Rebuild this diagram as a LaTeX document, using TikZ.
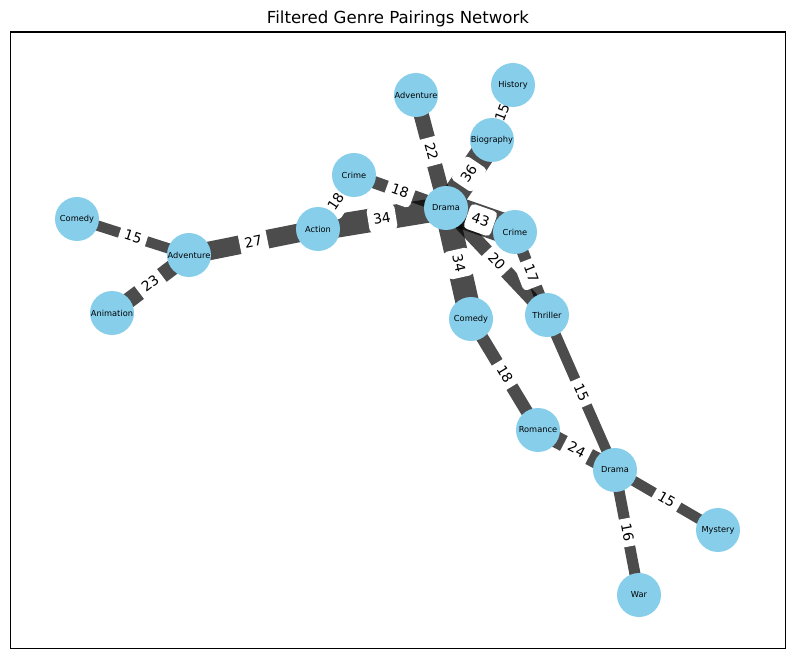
\documentclass[tikz,border=0pt]{standalone}
\usepackage{fontspec}
\setmainfont{DejaVu Sans}
\usepackage{tikz}
\usetikzlibrary{backgrounds}
\definecolor{skyblue}{RGB}{135,206,235}
\tikzset{
  genre/.style={shape=circle,fill=skyblue,minimum size=0.88cm,inner sep=0pt,
    font=\fontsize{4.7}{4.7}\selectfont},
  pairing/.style={draw=black,draw opacity=.7,line width=#1*0.394pt},
  tally/.style={fill=white,sloped,inner xsep=3pt,inner ysep=2.4pt,
    text height=0.76em,text depth=0.24em,rounded corners=2.4pt,
    font=\fontsize{7.9}{7.9}\selectfont},
  frame/.style={draw=black,line width=0.63pt}
}
\begin{document}
\begin{tikzpicture}[x=0.02cm,y=-0.02cm]
    \useasboundingbox (0,0) rectangle (794,658);
    \node[anchor=base,font=\fontsize{9.45}{9.45}\selectfont] (title) at (398,24) {Filtered Genre Pairings Network};
    \draw[frame] (10.5,32) rectangle (785.3,648.3);
    \node[genre] (com1) at (77,219) {Comedy};
    \node[genre] (adv1) at (189,255) {Adventure};
    \node[genre] (ani) at (112,313) {Animation};
    \node[genre] (act) at (318,229) {Action};
    \node[genre] (cri1) at (354,175) {Crime};
    \node[genre] (dra1) at (446,208) {Drama};
    \node[genre] (adv2) at (416,95) {Adventure};
    \node[genre] (his) at (513,85) {History};
    \node[genre] (bio) at (492,140) {Biography};
    \node[genre] (cri2) at (515,232) {Crime};
    \node[genre] (com2) at (471,319) {Comedy};
    \node[genre] (thr) at (547,315) {Thriller};
    \node[genre] (rom) at (538,430) {Romance};
    \node[genre] (dra2) at (615,470) {Drama};
    \node[genre] (mys) at (718,530) {Mystery};
    \node[genre] (war) at (639,595) {War};
    \begin{scope}[on background layer]
      % pairings
      \draw[pairing=15] (com1.center) -- (adv1.center);
      \draw[pairing=23] (adv1.center) -- (ani.center);
      \draw[pairing=27] (adv1.center) -- (act.center);
      \draw[pairing=18] (act.center) -- (cri1.center);
      \draw[pairing=34] (act.center) -- (dra1.center);
      \draw[pairing=18] (cri1.center) -- (dra1.center);
      \draw[pairing=22] (dra1.center) -- (adv2.center);
      \draw[pairing=36] (dra1.center) -- (bio.center);
      \draw[pairing=15] (bio.center) -- (his.center);
      \draw[pairing=43] (dra1.center) -- (cri2.center);
      \draw[pairing=34] (dra1.center) -- (com2.center);
      \draw[pairing=20] (dra1.center) -- (thr.center);
      \draw[pairing=17] (cri2.center) -- (thr.center);
      \draw[pairing=18] (com2.center) -- (rom.center);
      \draw[pairing=15] (thr.center) -- (dra2.center);
      \draw[pairing=24] (rom.center) -- (dra2.center);
      \draw[pairing=15] (dra2.center) -- (mys.center);
      \draw[pairing=16] (dra2.center) -- (war.center);
      % counts
      \path (com1.center) -- node[tally] {15} (adv1.center);
      \path (adv1.center) -- node[tally] {23} (ani.center);
      \path (adv1.center) -- node[tally] {27} (act.center);
      \path (act.center) -- node[tally] {18} (cri1.center);
      \path (act.center) -- node[tally] {34} (dra1.center);
      \path (cri1.center) -- node[tally] {18} (dra1.center);
      \path (dra1.center) -- node[tally] {22} (adv2.center);
      \path (dra1.center) -- node[tally] {36} (bio.center);
      \path (bio.center) -- node[tally] {15} (his.center);
      \path (dra1.center) -- node[tally] {43} (cri2.center);
      \path (dra1.center) -- node[tally] {34} (com2.center);
      \path (dra1.center) -- node[tally] {20} (thr.center);
      \path (cri2.center) -- node[tally] {17} (thr.center);
      \path (com2.center) -- node[tally] {18} (rom.center);
      \path (thr.center) -- node[tally] {15} (dra2.center);
      \path (rom.center) -- node[tally] {24} (dra2.center);
      \path (dra2.center) -- node[tally] {15} (mys.center);
      \path (dra2.center) -- node[tally] {16} (war.center);
    \end{scope}
\end{tikzpicture}
\end{document}
